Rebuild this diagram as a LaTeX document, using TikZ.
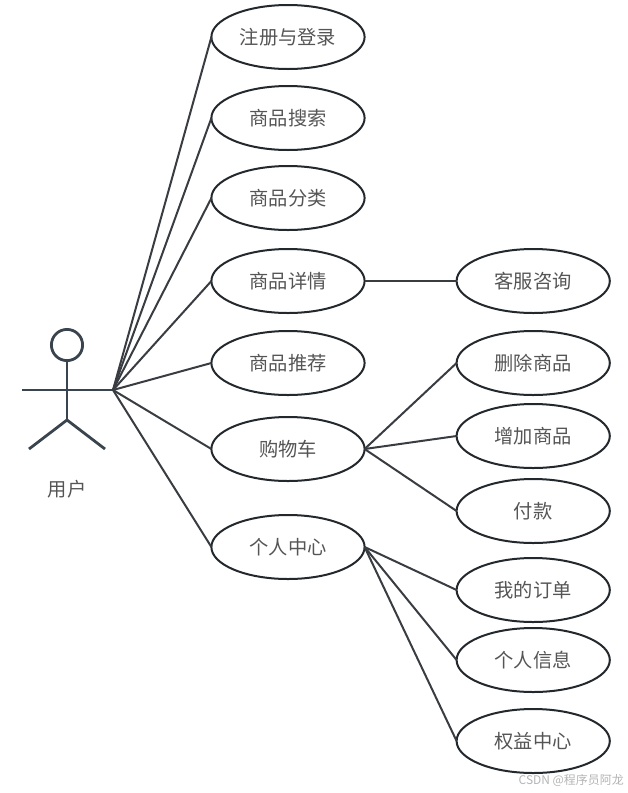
\documentclass[tikz,border=0pt]{standalone}
\usepackage{fontspec}
\usepackage{xcolor}
\usepackage{tikz}
\usetikzlibrary{positioning,shapes.geometric}
\setmainfont{Noto Sans CJK SC}
\definecolor{ink}{HTML}{23282D}
\definecolor{actorink}{HTML}{3A444E}
\definecolor{labelgray}{HTML}{555555}
\definecolor{markgray}{HTML}{B4B4B4}
\tikzset{
  usecase/.style={ellipse, draw=ink, line width=0.05cm, outer sep=0pt, align=center, minimum height=1.6cm, minimum width=3.83cm, inner sep=0pt, text=labelgray, font=\fontsize{13.7}{16}\selectfont},
  link/.style={draw=ink!90, line width=0.05cm},
  limb/.style={draw=actorink, line width=0.07cm},
  caption/.style={text=labelgray, inner sep=0pt, font=\fontsize{13.7}{16}\selectfont}
}

\begin{document}
\begin{tikzpicture}
  \useasboundingbox (0,0) rectangle (15.7,-19.825);
  % left column
  \node[usecase] (register) at (7.2,-0.925) {注册与登录};
  \node[usecase, below=0.425cm of register] (search) {商品搜索};
  \node[usecase, below=0.4cm of search] (category) {商品分类};
  \node[usecase, below=0.475cm of category] (detail) {商品详情};
  \node[usecase, below=0.45cm of detail] (recommend) {商品推荐};
  \node[usecase, below=0.55cm of recommend] (cart) {购物车};
  \node[usecase, below=0.85cm of cart] (profile) {个人中心};
  % right column
  \node[usecase, right=2.3cm of detail] (service) {客服咨询};
  \node[usecase, below=0.45cm of service] (remove) {删除商品};
  \node[usecase, below=0.225cm of remove] (add) {增加商品};
  \node[usecase, below=0.275cm of add] (pay) {付款};
  \node[usecase, below=0.375cm of pay] (orders) {我的订单};
  \node[usecase, below=0.15cm of orders] (info) {个人信息};
  \node[usecase, below=0.425cm of info] (rights) {权益中心};
  % actor
  \node[circle, limb, minimum size=0.78cm, inner sep=0pt] (head) at (1.675,-8.625) {};
  \coordinate (crotch) at (1.675,-10.5);
  \coordinate (handl) at (0.55,-9.75);
  \coordinate (handr) at (2.825,-9.75);
  \coordinate (footl) at (0.725,-11.225);
  \coordinate (footr) at (2.625,-11.225);
  \node[caption, below=1.5cm of crotch] (actor) {用户};
  \draw[limb] (head) -- (crotch);
  \draw[limb] (handl) -- (handr);
  \draw[limb] (footl) -- (crotch) -- (footr);

  \draw[link] (handr) -- (register.west);
  \draw[link] (handr) -- (search.west);
  \draw[link] (handr) -- (category.west);
  \draw[link] (handr) -- (detail.west);
  \draw[link] (handr) -- (recommend.west);
  \draw[link] (handr) -- (cart.west);
  \draw[link] (handr) -- (profile.west);
  \draw[link] (detail.east) -- (service.west);
  \draw[link] (cart.east) -- (remove.west);
  \draw[link] (cart.east) -- (add.west);
  \draw[link] (cart.east) -- (pay.west);
  \draw[link] (profile.east) -- (orders.west);
  \draw[link] (profile.east) -- (info.west);
  \draw[link] (profile.east) -- (rights.west);

  \node[text=markgray, inner sep=0pt, font=\fontsize{8.5}{10}\selectfont] (mark) at (14.28,-19.52) {CSDN @程序员阿龙};
\end{tikzpicture}
\end{document}
